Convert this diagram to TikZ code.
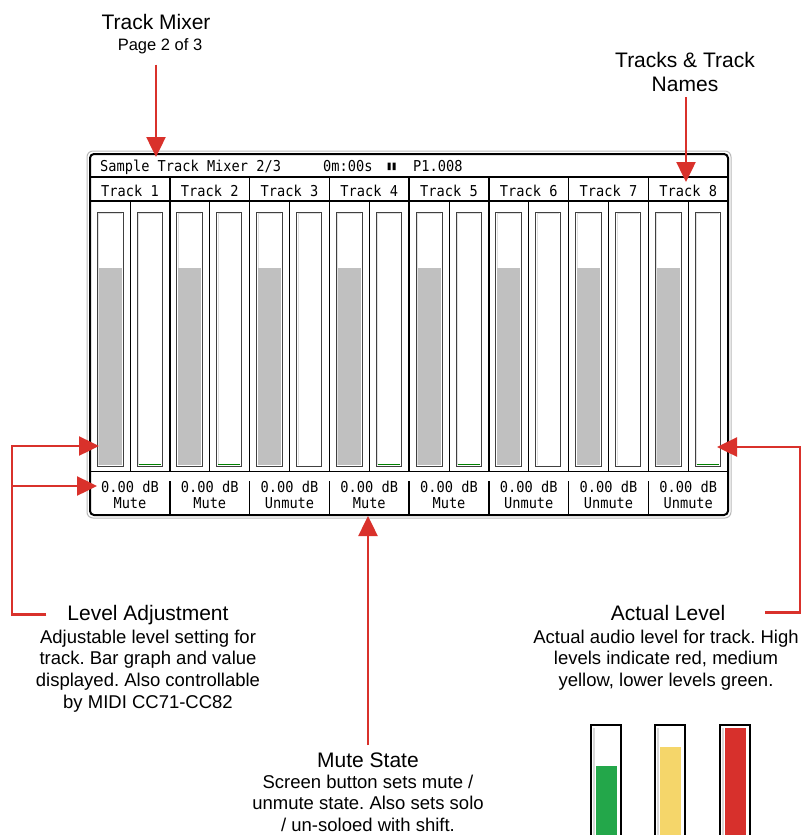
\documentclass[tikz,border=0pt]{standalone}
\usepackage{fontspec}
\setmainfont{Liberation Sans}
\newfontfamily\lcdfont[FakeStretch=0.91]{DejaVu Sans Mono}
\usepackage{tikz}
\usetikzlibrary{arrows.meta,positioning,calc}
\definecolor{calloutred}{RGB}{217,49,43}
\definecolor{metergray}{RGB}{192,192,192}
\definecolor{lcdgreen}{RGB}{0,128,0}
\definecolor{levelgreen}{RGB}{35,167,74}
\definecolor{levelyellow}{RGB}{245,214,106}
\definecolor{levelred}{RGB}{215,48,44}
\frenchspacing

\begin{document}
\begin{tikzpicture}[
    x=1pt, y=-1pt,
    every node/.style={inner sep=0pt, align=center},
    headtext/.style={font=\fontsize{21}{24}\selectfont, anchor=base},
    bodytext/.style={font=\fontsize{18.5}{21.8}\selectfont, anchor=north},
    lcdtext/.style={font=\lcdfont\fontsize{15}{16}\selectfont, anchor=base},
    meterbox/.style={draw=black!75, fill=white, line width=1pt},
    meterlight/.style={draw=gray!25, line width=1pt},
    arr/.style={-{Triangle[length=20pt, width=19pt]}, line width=2.5pt, draw=calloutred},
]

\fill[white] (0,0) rectangle (804,835);
\useasboundingbox (0,0) rectangle (804,835);

% screen frame
\draw[gray!55, line width=1pt, rounded corners=6pt] (87,151) rectangle (731,518);
\draw[black, line width=2pt, rounded corners=4pt] (90,154) rectangle (728,515);

% status line
\node[lcdtext, anchor=base west] (song) at (100,171) {Sample Track Mixer 2/3};
\node[lcdtext, anchor=base west] (clock) at (323,171) {0m:00s};
\fill (387.5,162.5) rectangle (390.5,170) (392.5,162.5) rectangle (395.5,170);
\node[lcdtext, anchor=base west] (patch) at (413,171) {P1.008};

\draw[line width=1.5pt] (90,177) -- (728,177);
\draw[line width=1.5pt] (90,201) -- (728,201);
\draw[line width=1.5pt] (90,471.5) -- (728,471.5);

% tracks
\foreach \i/\state in {1/Mute,2/Mute,3/Unmute,4/Mute,5/Mute,6/Unmute,7/Unmute,8/Unmute} {
    \pgfmathsetmacro{\xo}{90+79.75*(\i-1)}
    \node[lcdtext] (name\i) at (\xo+40,196) {Track \i};
    \draw[line width=1pt] (\xo+40,201) -- (\xo+40,471.5);
    % level setting
    \draw[meterbox] (\xo+7,212) rectangle (\xo+33,466);
    \draw[meterlight] (\xo+8.5,465) |- (\xo+31.5,213.5);
    \fill[metergray] (\xo+8.5,268) rectangle (\xo+31.5,465);
    % actual level
    \draw[meterbox] (\xo+47,212) rectangle (\xo+72,466);
    \draw[meterlight] (\xo+48.5,465) |- (\xo+70.5,213.5);
    \node[lcdtext] (db\i) at (\xo+40,492) {0.00 dB};
    \node[lcdtext] (mute\i) at (\xo+40,508.5) {\state};
}
\foreach \i in {2,...,8} {
    \pgfmathsetmacro{\xo}{90+79.75*(\i-1)}
    \draw[line width=1.5pt] (\xo,177) -- (\xo,471.5);
    \draw[line width=1.5pt] (\xo,481) -- (\xo,515);
}
\foreach \i in {1,2,4,5,8} {
    \pgfmathsetmacro{\xo}{90+79.75*(\i-1)}
    \draw[lcdgreen, line width=1.5pt] (\xo+48.5,464.5) -- (\xo+70.5,464.5);
}

% callouts
\node[headtext] (mixertitle) at (156,29) {Track Mixer};
\node[font=\fontsize{16.5}{18}\selectfont, anchor=base] (mixerpage) at (160,50) {Page 2 of 3};
\coordinate (mixertip) at (156,157);
\draw[arr] ($(mixertip |- mixerpage.south)+(0,11)$) -- (mixertip);

\node[headtext, anchor=north] (namestitle) at (685,52.5) {Tracks \& Track\\Names};
\coordinate (namestip) at (686,182);
\draw[arr] ($(namestip |- namestitle.south)+(0,5)$) -- (namestip);

\node[headtext] (lvltitle) at (148,620) {Level Adjustment};
\node[bodytext] (lvlbody) at (148,629.5) {Adjustable level setting for\\track. Bar graph and value\\displayed. Also controllable\\by MIDI CC71-CC82};
\coordinate (lvlbar) at (99,446);
\coordinate (lvlval) at (97,486);
\coordinate (lvlrail) at (12,446);
\draw[arr] ([xshift=-21pt]lvltitle.west) -| (lvlrail) -- (lvlbar);
\draw[arr] (lvlrail |- lvlval) -- (lvlval);

\node[headtext] (acttitle) at (668,620) {Actual Level};
\node[bodytext] (actbody) at (666,629.5) {Actual audio level for track. High\\levels indicate red, medium\\yellow, lower levels green.};
\coordinate (actbar) at (717,447);
\coordinate (actrail) at (800,447);
\draw[arr] ([xshift=40pt]acttitle.east) -| (actrail) -- (actbar);

\node[headtext] (mutetitle) at (368,767) {Mute State};
\node[bodytext] (mutebody) at (368,774.5) {Screen button sets mute /\\unmute state. Also sets solo\\/ un-soloed with shift.};
\coordinate (mutetip) at (368,516);
\draw[arr] ($(mutetip |- mutetitle.north)+(0,-7)$) -- (mutetip);

% level colour samples
\foreach \x/\top/\col in {591/766/levelgreen, 655/747/levelyellow, 720/728/levelred} {
    \draw[black, line width=1.5pt] (\x,835) |- (\x+30,725) -- (\x+30,835);
    \draw[gray!30, line width=1.5pt] (\x+3,835) -- (\x+3,727.5);
    \fill[\col] (\x+5,\top) rectangle (\x+26,835);
}

\end{tikzpicture}
\end{document}
